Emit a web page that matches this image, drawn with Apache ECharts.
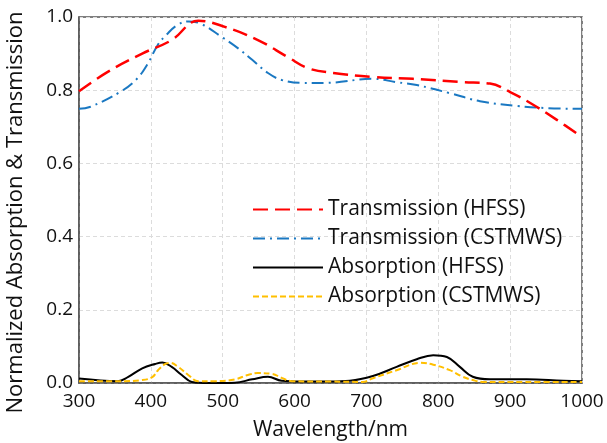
<!DOCTYPE html>
<html><head><meta charset="utf-8">
<script src="https://cdn.jsdelivr.net/npm/echarts@6/dist/echarts.min.js"></script>
<style>html,body{margin:0;padding:0;background:#fff}#c{width:607px;height:443px}</style>
</head><body><div id="c"></div>
<script>
var seriesNames = ['Transmission (HFSS)', 'Transmission (CSTMWS)', 'Absorption (HFSS)', 'Absorption (CSTMWS)'];
var xTickLabels = [300, 400, 500, 600, 700, 800, 900, 1000];
var yTickLabels = ['0.0', '0.2', '0.4', '0.6', '0.8', '1.0'];

var transHfssX = [300, 340, 388, 429, 466, 503, 549, 591, 619, 654, 709, 765, 834, 872, 900, 928, 965, 1000];
var transHfssY = [0.797, 0.85, 0.90, 0.937, 0.99, 0.973, 0.937, 0.89, 0.86, 0.847, 0.836, 0.831, 0.822, 0.818, 0.795, 0.765, 0.719, 0.672];

var transCstX = [300, 315, 357, 380, 395, 410, 422, 436, 452, 468, 499, 521, 541, 563, 582, 610, 642, 709, 742, 770, 816, 858, 910, 951, 1000];
var transCstY = [0.749, 0.754, 0.795, 0.83, 0.87, 0.925, 0.952, 0.977, 0.988, 0.983, 0.945, 0.915, 0.883, 0.847, 0.828, 0.820, 0.820, 0.831, 0.822, 0.814, 0.792, 0.770, 0.757, 0.751, 0.749];

var absHfssX = [300, 354, 368, 388, 406, 416, 429, 443, 457, 480, 517, 541, 563, 582, 610, 649, 677, 709, 742, 770, 793, 812, 830, 848, 872, 923, 974, 1000];
var absHfssY = [0.012, 0.005, 0.016, 0.04, 0.052, 0.056, 0.044, 0.022, 0.003, 0.0, 0.001, 0.01, 0.017, 0.006, 0.004, 0.004, 0.006, 0.019, 0.044, 0.065, 0.076, 0.071, 0.044, 0.017, 0.01, 0.01, 0.006, 0.005];

var absCstX = [300, 354, 388, 402, 410, 420, 427, 438, 452, 466, 489, 517, 535, 549, 569, 582, 596, 650, 695, 709, 742, 775, 793, 816, 834, 848, 862, 920, 1000];
var absCstY = [0.005, 0.005, 0.008, 0.016, 0.035, 0.052, 0.055, 0.044, 0.022, 0.005, 0.005, 0.01, 0.022, 0.027, 0.025, 0.014, 0.005, 0.004, 0.003, 0.013, 0.035, 0.055, 0.05, 0.035, 0.017, 0.008, 0.003, 0.003, 0.003];

function pairs(xs, ys) { return xs.map(function (x, i) { return [x, ys[i]]; }); }

var FONT = 'Open Sans';
var chart = echarts.init(document.getElementById('c'), null, {renderer: 'canvas'});
chart.setOption({
  animation: false,
  backgroundColor: '#fff',
  textStyle: {fontFamily: FONT},
  grid: {left: 79, right: 25, top: 17, bottom: 60, show: true, borderColor: '#555', borderWidth: 1.5,
         containLabel: false, outerBoundsMode: 'none'},
  legend: {
    orient: 'vertical', left: 247, top: 194,
    itemWidth: 70, itemHeight: 14, itemGap: 8,
    itemStyle: {opacity: 0},
    textStyle: {fontFamily: FONT, fontSize: 21, color: '#111', lineHeight: 21},
    data: seriesNames
  },
  xAxis: {
    type: 'value', min: xTickLabels[0], max: xTickLabels[xTickLabels.length - 1], interval: 100,
    name: 'Wavelength/nm', nameLocation: 'middle', nameGap: 37,
    nameTextStyle: {fontFamily: FONT, fontSize: 21, color: '#111'},
    axisLine: {show: true, lineStyle: {color: '#555', width: 1.5}},
    axisTick: {show: false},
    axisLabel: {fontFamily: FONT, fontSize: 19, color: '#111', margin: 9,
      formatter: function (v) { return String(v); }},
    splitLine: {show: true, lineStyle: {color: '#dcdcdc', type: [4, 3], width: 1}}
  },
  yAxis: {
    type: 'value', min: 0, max: 1, interval: 0.2,
    name: 'Normalized Absorption & Transmission', nameLocation: 'middle', nameGap: 52,
    nameTextStyle: {fontFamily: FONT, fontSize: 22, color: '#111', padding: [0, 25, 0, 0]},
    axisLine: {show: true, lineStyle: {color: '#555', width: 1.5}},
    axisTick: {show: false},
    axisLabel: {fontFamily: FONT, fontSize: 19, color: '#111', margin: 6,
      formatter: function (v) { return yTickLabels[Math.round(v / 0.2)]; }},
    splitLine: {show: true, lineStyle: {color: '#dcdcdc', type: [4, 3], width: 1}}
  },
  series: [
    {name: seriesNames[0], type: 'line', smooth: 0.4, symbol: 'none', data: pairs(transHfssX, transHfssY),
     itemStyle: {color: '#ff0000'}, lineStyle: {color: '#ff0000', width: 2.5, type: [15, 7]}, z: 4},
    {name: seriesNames[1], type: 'line', smooth: 0.4, symbol: 'none', data: pairs(transCstX, transCstY),
     itemStyle: {color: '#1a78c2'}, lineStyle: {color: '#1a78c2', width: 2, type: [12, 5, 2, 5]}, z: 3},
    {name: seriesNames[2], type: 'line', smooth: 0.4, symbol: 'none', data: pairs(absHfssX, absHfssY),
     itemStyle: {color: '#000'}, lineStyle: {color: '#000', width: 2}, z: 3},
    {name: seriesNames[3], type: 'line', smooth: 0.4, symbol: 'none', data: pairs(absCstX, absCstY),
     itemStyle: {color: '#ffbf00'}, lineStyle: {color: '#ffbf00', width: 2, type: [6, 3]}, z: 4}
  ]
});
</script></body></html>
